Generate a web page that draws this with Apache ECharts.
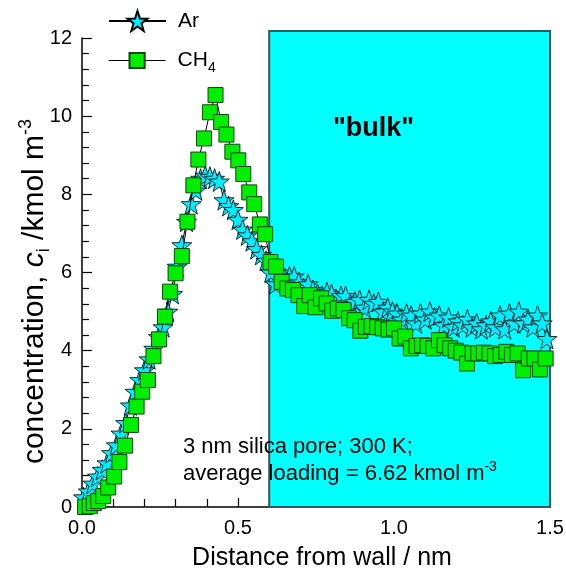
<!DOCTYPE html>
<html><head><meta charset="utf-8">
<script src="https://cdn.jsdelivr.net/npm/echarts@6/dist/echarts.min.js"></script>
<style>html,body{margin:0;padding:0;background:#fff}#c{width:566px;height:572px}</style>
</head><body><div id="c"></div>
<script>
// ---- data ----
const arX = [0.005,0.02,0.035,0.05,0.065,0.08,0.095,0.11,0.125,0.14,0.155,0.17,0.185,0.20,0.215,0.23,0.245,0.26,0.275,0.29,
  0.305,0.32,0.335,0.35,0.365,0.38,0.395,0.41,0.425,0.44,0.455,0.47,0.485,0.50,0.515,0.53,0.545,0.56,0.575,0.59,
  0.605,0.62,0.635,0.65,0.665,0.68,0.695,0.71,0.725,0.74,0.755,0.77,0.785,0.80,0.815,0.83,0.845,0.86,0.875,0.89,
  0.905,0.92,0.935,0.95,0.965,0.98,0.995,1.01,1.025,1.04,1.055,1.07,1.085,1.10,1.115,1.13,1.145,1.16,1.175,1.19,
  1.205,1.22,1.235,1.25,1.265,1.28,1.295,1.31,1.325,1.34,1.355,1.37,1.385,1.40,1.415,1.43,1.445,1.46,1.475,1.49];
const arY = [0.25,0.40,0.60,0.78,0.95,1.12,1.38,1.58,1.88,2.15,2.60,2.95,3.25,3.50,3.78,4.05,4.35,4.60,5.00,5.45,
  6.15,6.70,7.30,7.75,8.10,8.40,8.48,8.45,8.40,8.33,7.85,7.70,7.60,7.35,7.10,6.95,6.80,6.60,6.45,6.30,
  6.00,5.70,6.00,5.85,5.90,5.90,5.75,5.60,5.70,5.55,5.45,5.40,5.50,5.45,5.30,5.40,5.40,5.20,5.25,5.30,
  5.10,5.30,5.20,5.25,5.00,5.10,5.00,4.95,4.80,4.95,4.90,4.70,4.95,4.80,5.00,4.85,4.90,4.65,4.85,4.60,
  4.75,4.65,4.80,4.60,4.70,4.55,4.65,4.75,4.60,4.90,4.55,4.95,4.70,5.00,4.70,4.80,4.60,4.90,4.70,4.30];
const chX = [0.01,0.025,0.038,0.052,0.068,0.084,0.103,0.12,0.138,0.157,0.175,0.193,0.211,0.229,0.247,0.266,0.282,0.30,0.32,0.338,
  0.357,0.373,0.391,0.41,0.428,0.446,0.463,0.482,0.501,0.517,0.536,0.552,0.57,0.587,0.604,0.622,0.64,0.658,0.676,0.694,
  0.712,0.73,0.748,0.766,0.784,0.802,0.82,0.838,0.856,0.874,0.892,0.91,0.928,0.946,0.964,0.982,1.0,1.018,1.036,1.054,
  1.072,1.09,1.108,1.126,1.144,1.162,1.18,1.198,1.216,1.234,1.252,1.27,1.288,1.306,1.324,1.342,1.36,1.378,1.396,1.414,
  1.432,1.45,1.468,1.486];
const chY = [0.0,0.02,0.10,0.15,0.28,0.50,0.78,1.15,1.57,2.10,2.57,2.95,3.25,3.86,4.29,4.87,5.51,5.98,6.42,7.30,
  8.23,8.89,9.43,10.10,10.54,9.85,9.53,9.09,8.87,8.52,8.05,7.75,7.23,6.98,6.27,6.15,5.76,5.59,5.55,5.42,
  5.14,5.42,5.11,5.34,5.21,5.02,5.08,5.04,4.83,4.78,4.51,4.61,4.63,4.60,4.57,4.54,4.57,4.31,4.36,4.06,
  4.12,4.14,4.12,4.06,4.27,4.14,4.06,4.00,3.95,3.67,3.93,3.93,3.95,3.93,3.86,3.89,3.97,3.89,3.93,3.50,
  3.80,3.80,3.52,3.80];
const seriesNames = ['Ar', 'CH4'];
const bulkX = [0.6, 1.5];
const bulkY = [0, 12.18];

const FONT = 'Liberation Sans, Arial, sans-serif';
const STAR = 'path://M50 0 L61.76 33.82 L97.55 34.55 L69.02 56.18 L79.39 90.45 L50 70 L20.61 90.45 L30.98 56.18 L2.45 34.55 L38.24 33.82 Z';

const chart = echarts.init(document.getElementById('c'), null, {renderer: 'canvas'});
const option = {
  animation: false,
  backgroundColor: '#fff',
  textStyle: {fontFamily: FONT, color: '#000'},
  grid: {left: 82, right: 16, top: 38, bottom: 65, containLabel: false, outerBoundsMode: 'none'},
  legend: [{
    data: [seriesNames[0]], left: 108, top: 10, padding: 0, itemWidth: 57, itemHeight: 25,
    lineStyle: {width: 2, color: '#000'},
    textStyle: {fontSize: 21, color: '#000', fontFamily: FONT, padding: [0, 0, 0, 7]}
  }, {
    data: [seriesNames[1]], left: 108, top: 50, padding: 0, itemWidth: 57, itemHeight: 19,
    lineStyle: {width: 1.2, color: '#000'},
    formatter: () => '{n|CH}{s|4}',
    textStyle: {color: '#000', fontFamily: FONT, padding: [0, 0, 0, 7],
      rich: {n: {fontSize: 21, lineHeight: 30, fontFamily: FONT}, s: {fontSize: 14, verticalAlign: 'bottom', fontFamily: FONT}}}
  }],
  xAxis: {
    type: 'value', min: 0, max: 1.5, interval: 0.5,
    axisLine: {lineStyle: {color: '#000', width: 1.5}},
    axisTick: {inside: true, length: 9, lineStyle: {color: '#000', width: 1.2}},
    minorTick: {show: true, splitNumber: 5, length: 8, lineStyle: {color: '#000', width: 1.2}},
    splitLine: {show: false},
    axisLabel: {fontSize: 20, color: '#000', margin: 11, fontFamily: FONT, formatter: v => v.toFixed(1)},
    name: 'Distance from wall / nm', nameLocation: 'middle', nameGap: 39, nameMoveOverlap: false,
    nameTextStyle: {fontSize: 25, color: '#000', fontFamily: FONT, padding: [0, 0, 0, 12]}
  },
  yAxis: {
    type: 'value', min: 0, max: 12, interval: 2,
    axisLine: {show: true, lineStyle: {color: '#000', width: 1.5}},
    axisTick: {show: true, inside: true, length: 10, lineStyle: {color: '#000', width: 1.2}},
    minorTick: {show: true, splitNumber: 5, length: 7, lineStyle: {color: '#000', width: 1.2}},
    splitLine: {show: false},
    axisLabel: {fontSize: 20, color: '#000', margin: 10, fontFamily: FONT},
    name: '{a|concentration, }{c|c}{s|i}{a| /kmol m}{p|-3}',
    nameLocation: 'middle', nameGap: 29, nameRotate: 90, nameMoveOverlap: false,
    nameTextStyle: {color: '#000', fontFamily: FONT, padding: [0, 38, 0, 0], rich: {
      a: {fontSize: 30, lineHeight: 36, fontFamily: FONT},
      c: {fontSize: 30, fontStyle: 'italic', fontFamily: FONT},
      s: {fontSize: 18, verticalAlign: 'bottom', fontFamily: FONT},
      p: {fontSize: 18, verticalAlign: 'top', fontFamily: FONT}
    }}
  },
  series: [{
    name: seriesNames[0], type: 'line', z: 3,
    data: arX.map((x, i) => [x, arY[i]]),
    symbol: STAR, symbolSize: 20,
    itemStyle: {color: '#00eeff', borderColor: '#000', borderWidth: 0.8},
    lineStyle: {color: '#000', width: 1}
  }, {
    name: seriesNames[1], type: 'line', z: 4,
    data: chX.map((x, i) => [x, chY[i]]),
    symbol: 'rect', symbolSize: 15,
    itemStyle: {color: '#00ee00', borderColor: '#114411', borderWidth: 1},
    lineStyle: {color: '#000', width: 1}
  }]
};
chart.setOption(option);

const p1 = chart.convertToPixel({gridIndex: 0}, [bulkX[0], bulkY[1]]);
const p2 = chart.convertToPixel({gridIndex: 0}, [bulkX[1], bulkY[0]]);
chart.setOption({
  graphic: [{
    type: 'rect', z: 1, silent: true,
    shape: {x: p1[0], y: p1[1], width: p2[0] - p1[0], height: p2[1] - p1[1]},
    style: {fill: '#00ffff', stroke: '#2c5a5e', lineWidth: 2}
  }, {
    type: 'text', z: 10, left: 333, top: 115,
    style: {text: '"bulk"', font: 'bold 27px ' + FONT, fill: '#000'}
  }, {
    type: 'text', z: 10, left: 183, top: 436,
    style: {text: '3 nm silica pore; 300 K;', font: '22px ' + FONT, fill: '#000'}
  }, {
    type: 'text', z: 10, left: 183, top: 460,
    style: {text: '{t|average loading = 6.62 kmol m}{p|-3}', fill: '#000',
      rich: {t: {fontSize: 22, lineHeight: 28, fontFamily: FONT, fill: '#000'},
             p: {fontSize: 14, verticalAlign: 'top', fontFamily: FONT, fill: '#000'}}}
  }]
});
</script>
</body></html>
